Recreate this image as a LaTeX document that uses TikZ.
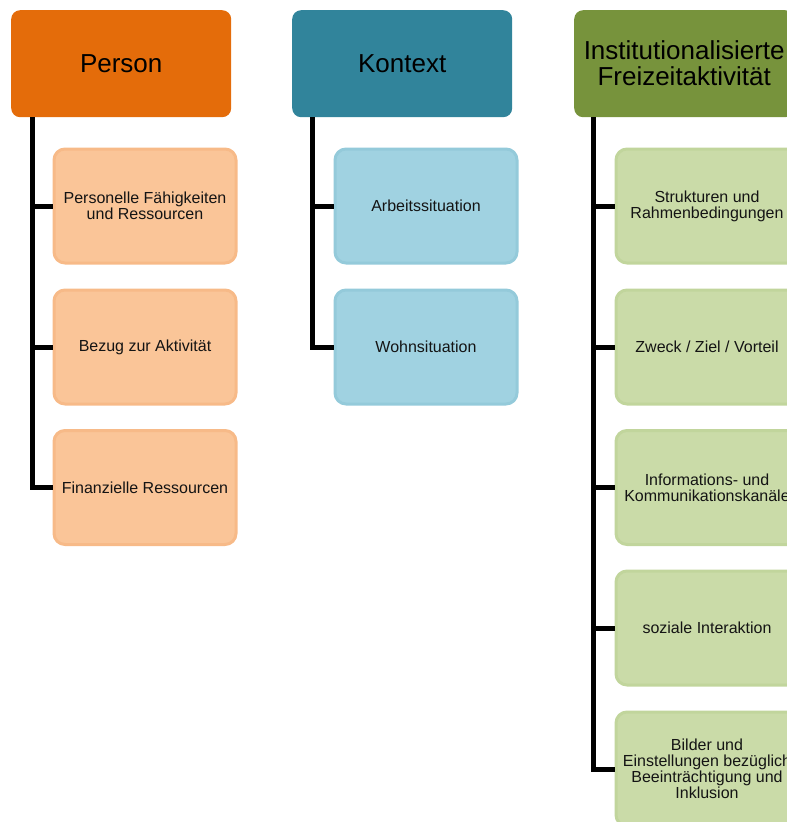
\documentclass[tikz,border=0pt]{standalone}
\usepackage{fontspec}
\setmainfont{Liberation Sans}
\usetikzlibrary{calc}
\definecolor{persHead}{HTML}{E46C0A}
\definecolor{kontHead}{HTML}{31849B}
\definecolor{instHead}{HTML}{77933C}
\definecolor{persFill}{HTML}{FAC598}
\definecolor{persRim}{HTML}{F7BA88}
\definecolor{kontFill}{HTML}{A0D2E1}
\definecolor{kontRim}{HTML}{94CADA}
\definecolor{instFill}{HTML}{CADBA8}
\definecolor{instRim}{HTML}{C1D59C}
\tikzset{
  headbox/.style={anchor=north west, rectangle, rounded corners=9pt,
    minimum width=220pt, minimum height=107pt, inner sep=0pt,
    align=center, font=\fontsize{26}{26}\selectfont, text=black},
  itembox/.style={anchor=north west, rectangle, rounded corners=11pt,
    minimum width=182pt, minimum height=114pt, inner sep=0pt, line width=3pt,
    align=center, font=\fontsize{16}{16}\selectfont, text=black!92},
  trunk/.style={line width=5pt, black, line join=miter}
}
\begin{document}
\begin{tikzpicture}[x=1pt, y=-1pt]
  \useasboundingbox (0,0) rectangle (787,822);
  \clip (0,0) rectangle (787,822);

  % column headers
  \node[headbox, fill=persHead] (p0) at (11,10) {Person};
  \node[headbox, fill=kontHead] (k0) at (292,10) {Kontext};
  \node[headbox, fill=instHead] (i0) at (574,10) {Institutionalisierte\\Freizeitaktivität};

  % Person items
  \node[itembox, fill=persFill, draw=persRim] (p1) at (52.5,147.5) {Personelle Fähigkeiten\\und Ressourcen};
  \node[itembox, fill=persFill, draw=persRim] (p2) at (52.5,288.5) {Bezug zur Aktivität};
  \node[itembox, fill=persFill, draw=persRim] (p3) at (52.5,429) {Finanzielle Ressourcen};

  % Kontext items
  \node[itembox, fill=kontFill, draw=kontRim] (k1) at (333.5,147.5) {Arbeitssituation};
  \node[itembox, fill=kontFill, draw=kontRim] (k2) at (333.5,288.5) {Wohnsituation};

  % Freizeitaktivität items
  \node[itembox, fill=instFill, draw=instRim] (i1) at (614.5,147.5) {Strukturen und\\Rahmenbedingungen};
  \node[itembox, fill=instFill, draw=instRim] (i2) at (614.5,288.5) {Zweck / Ziel / Vorteil};
  \node[itembox, fill=instFill, draw=instRim] (i3) at (614.5,429) {Informations- und\\Kommunikationskanäle};
  \node[itembox, fill=instFill, draw=instRim] (i4) at (614.5,569.5) {soziale Interaktion};
  \node[itembox, fill=instFill, draw=instRim] (i5) at (614.5,710.5) {Bilder und\\Einstellungen bezüglich\\Beeinträchtigung und\\Inklusion};

  % trunk start points below each header
  \coordinate (pt) at ($(p0.south west)+(21,0)$);
  \coordinate (kt) at ($(k0.south west)+(20,0)$);
  \coordinate (it) at ($(i0.south west)+(19,0)$);

  % Person connectors
  \draw[trunk] (pt) |- (p3.west);
  \draw[trunk] (p1.west -| pt) -- (p1.west);
  \draw[trunk] (p2.west -| pt) -- (p2.west);

  % Kontext connectors
  \draw[trunk] (kt) |- (k2.west);
  \draw[trunk] (k1.west -| kt) -- (k1.west);

  % Freizeitaktivität connectors
  \draw[trunk] (it) |- (i5.west);
  \draw[trunk] (i1.west -| it) -- (i1.west);
  \draw[trunk] (i2.west -| it) -- (i2.west);
  \draw[trunk] (i3.west -| it) -- (i3.west);
  \draw[trunk] (i4.west -| it) -- (i4.west);
\end{tikzpicture}
\end{document}
